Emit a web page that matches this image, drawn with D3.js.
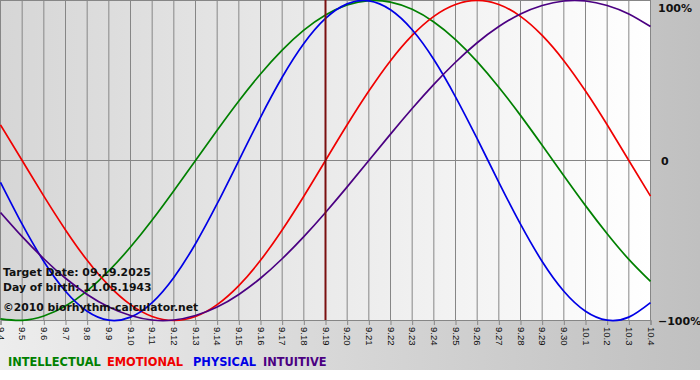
<!DOCTYPE html>
<html>
<head>
<meta charset="utf-8">
<script src="https://cdn.jsdelivr.net/npm/d3@7"></script>
<style>
  body { margin: 0; background: #fff; }
  svg { display: block; }
</style>
</head>
<body>
<div class="bio-chart"></div>
<script>
// day labels along the bottom (9.4 .. 10.4)
const days = ["9.4","9.5","9.6","9.7","9.8","9.9","9.10","9.11","9.12","9.13","9.14","9.15","9.16",
  "9.17","9.18","9.19","9.20","9.21","9.22","9.23","9.24","9.25","9.26","9.27","9.28","9.29","9.30",
  "10.1","10.2","10.3","10.4"]

// values read per day, -1 .. 1
const physical = [-0.136,-0.398,-0.631,-0.817,-0.942,-0.998,-0.979,-0.888,-0.731,-0.520,-0.270,0,
  0.270,0.520,0.731,0.888,0.979,0.998,0.942,0.817,0.631,0.398,0.136,-0.136,-0.398,-0.631,-0.817,
  -0.942,-0.998,-0.979,-0.888]
const emotional = [0.223,0,-0.223,-0.434,-0.624,-0.782,-0.901,-0.975,-1,-0.975,-0.901,-0.782,-0.624,
  -0.434,-0.223,0,0.223,0.434,0.624,0.782,0.901,0.975,1,0.975,0.901,0.782,0.624,0.434,0.223,0,-0.223]
const intellectual = [-0.990,-0.999,-0.972,-0.910,-0.815,-0.690,-0.541,-0.372,-0.189,0,0.189,0.372,
  0.541,0.690,0.815,0.910,0.972,0.999,0.990,0.945,0.866,0.756,0.618,0.458,0.282,0.095,-0.095,-0.282,
  -0.458,-0.618,-0.756]
const intuitive = [-0.325,-0.476,-0.614,-0.736,-0.837,-0.916,-0.969,-0.997,-0.997,-0.969,-0.916,-0.837,
  -0.736,-0.614,-0.476,-0.325,-0.165,0,0.165,0.325,0.476,0.614,0.736,0.837,0.916,0.969,0.997,0.997,
  0.969,0.916,0.837]

const yTicks = [1, 0, -1]
const targetDay = "9.19"
const infoLines = ["Target Date: 09.19.2025", "Day of birth: 11.05.1943", "\u00a92010 biorhythm-calculator.net"]

const series = [
  { name: "INTELLECTUAL", values: intellectual, color: "#008000" },
  { name: "EMOTIONAL", values: emotional, color: "#f00000" },
  { name: "PHYSICAL", values: physical, color: "#0000e6" },
  { name: "INTUITIVE", values: intuitive, color: "#4b0082" }
]

const W = 700, H = 380
const plotW = 651, plotH = 320

const svg = d3.select(".bio-chart")
  .append("svg")
  .attr("width", W)
  .attr("height", H)

const defs = svg.append("defs")
const outerGrad = defs.append("linearGradient").attr("id", "outerGrad")
outerGrad.append("stop").attr("offset", "0%").attr("stop-color", "#ededed")
outerGrad.append("stop").attr("offset", "100%").attr("stop-color", "#c0c0c0")
const plotGrad = defs.append("linearGradient").attr("id", "plotGrad")
plotGrad.append("stop").attr("offset", "0%").attr("stop-color", "#d6d6d6")
plotGrad.append("stop").attr("offset", "100%").attr("stop-color", "#ffffff")

// backgrounds
svg.append("rect").attr("width", W).attr("height", 370).attr("fill", "url(#outerGrad)")
svg.append("rect").attr("width", plotW).attr("height", plotH).attr("fill", "url(#plotGrad)")

const x = d3.scalePoint().domain(days).range([0.5, 650.5])
const y = d3.scaleLinear().domain([-1, 1]).range([320.5, 0.5])

// vertical day grid
svg.append("g")
  .selectAll("line")
  .data(days)
  .join("line")
  .attr("x1", d => x(d)).attr("x2", d => x(d))
  .attr("y1", 0).attr("y2", plotH)
  .attr("stroke", "#868686")

// zero line and top border
svg.append("line").attr("x1", 0).attr("x2", plotW).attr("y1", y(0)).attr("y2", y(0)).attr("stroke", "#868686")
svg.append("line").attr("x1", 0).attr("x2", plotW).attr("y1", 0.5).attr("y2", 0.5).attr("stroke", "#868686")

// bottom axis
const xAxis = d3.axisBottom(x).tickSize(5).tickPadding(3)
const xAxisGroup = svg.append("g")
  .attr("class", "axis x-axis")
  .attr("transform", `translate(0,${plotH})`)
  .call(xAxis)
xAxisGroup.select(".domain").attr("stroke", "#868686")
xAxisGroup.selectAll(".tick line").attr("stroke", "#868686")
xAxisGroup.selectAll(".tick text")
  .attr("transform", "rotate(90)")
  .attr("x", 7).attr("y", 0).attr("dy", "0.35em")
  .style("text-anchor", "start")
  .attr("font-family", "Liberation Sans, Arial, sans-serif")
  .attr("font-size", 9.5)
  .attr("fill", "#111")

// right value labels
svg.append("g")
  .selectAll("text")
  .data(yTicks)
  .join("text")
  .attr("x", d => d === 0 ? 661 : 658)
  .attr("y", d => d === 1 ? 12 : y(d) + 4.5)
  .attr("font-family", "DejaVu Sans, Verdana, sans-serif")
  .attr("font-weight", "bold")
  .attr("font-size", 11)
  .attr("fill", "#111")
  .text(d => d === 0 ? "0" : d3.format(".0%")(d))

// curves
const line = d3.line()
  .x((d, i) => x(days[i]))
  .y(d => y(d))
  .curve(d3.curveNatural)

svg.append("g")
  .selectAll("path")
  .data(series)
  .join("path")
  .attr("d", d => line(d.values))
  .attr("fill", "none")
  .attr("stroke", d => d.color)
  .attr("stroke-width", 1.7)

// target date marker
svg.append("line")
  .attr("x1", x(targetDay)).attr("x2", x(targetDay))
  .attr("y1", 0).attr("y2", plotH)
  .attr("stroke", "#7a1010")
  .attr("stroke-width", 2)

// info block
svg.append("g")
  .selectAll("text")
  .data(infoLines)
  .join("text")
  .attr("x", 3)
  .attr("y", (d, i) => [276, 291, 311][i])
  .attr("font-family", "DejaVu Sans, Verdana, sans-serif")
  .attr("font-weight", "bold")
  .attr("font-size", 10.8)
  .attr("fill", "#111")
  .text(d => d)

// legend
const legendX = [8, 107, 193, 263]
svg.append("g")
  .selectAll("text")
  .data(series)
  .join("text")
  .attr("x", (d, i) => legendX[i])
  .attr("y", 366)
  .attr("font-family", "DejaVu Sans, Verdana, sans-serif")
  .attr("font-weight", "bold")
  .attr("font-size", 11.4)
  .attr("fill", d => d.color)
  .text(d => d.name)
</script>
</body>
</html>
